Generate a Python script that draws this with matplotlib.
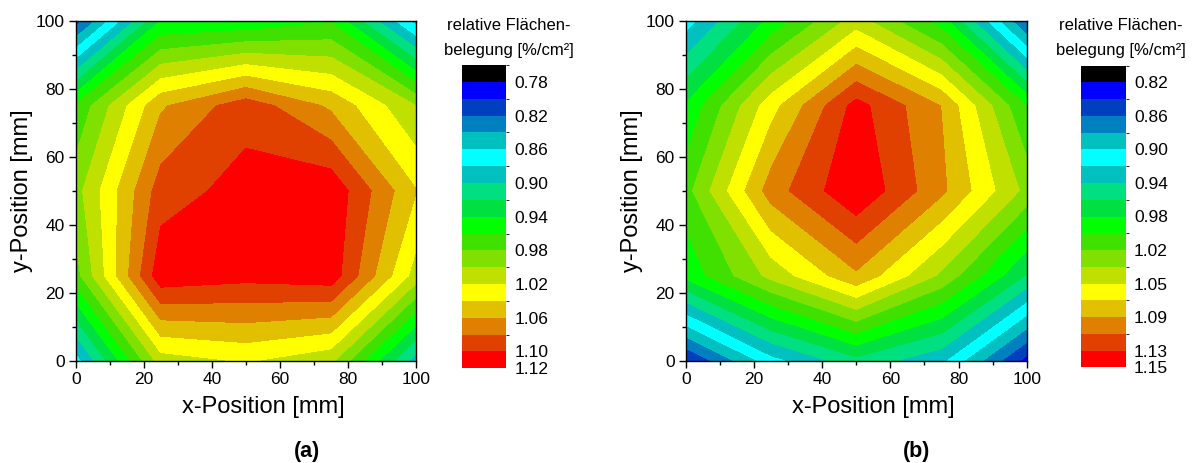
import numpy as np
import matplotlib
matplotlib.use("Agg")
import matplotlib.pyplot as plt
from matplotlib.colors import ListedColormap, BoundaryNorm
from matplotlib.ticker import MultipleLocator

plt.rcParams['font.family'] = ['Liberation Sans', 'DejaVu Sans']

# measuring grid [mm]
pos_mm = [0, 25, 50, 75, 100]

# relative area coverage, rows = y (0 -> 100 mm), columns = x (0 -> 100 mm)
belegung_a = [
    [0.870, 1.010, 1.022, 1.005, 0.890],
    [0.972, 1.114, 1.107, 1.112, 1.011],
    [0.992, 1.090, 1.108, 1.115, 1.041],
    [0.963, 1.057, 1.092, 1.056, 1.000],
    [0.810, 0.940, 0.943, 0.958, 0.852],
]
belegung_b = [
    [0.838, 0.910, 0.951, 0.922, 0.833],
    [0.982, 1.041, 1.090, 1.031, 0.955],
    [1.008, 1.103, 1.150, 1.098, 1.029],
    [0.979, 1.066, 1.140, 1.093, 0.995],
    [0.908, 0.982, 1.044, 0.986, 0.856],
]

# colour scale boundaries and colourbar labels
levels_a = np.linspace(0.76, 1.12, 19)
levels_b = np.linspace(0.801, 1.152, 19)
cbar_idx = [1, 3, 5, 7, 9, 11, 13, 15, 17, 18]
cbar_labels_a = ["0.78", "0.82", "0.86", "0.90", "0.94", "0.98",
                 "1.02", "1.06", "1.10", "1.12"]
cbar_labels_b = ["0.82", "0.86", "0.90", "0.94", "0.98", "1.02",
                 "1.05", "1.09", "1.13", "1.15"]

origin_colors = [
    "#000000", "#0000ff", "#0040c0", "#0080c0", "#00c0c0", "#00ffff",
    "#00c0c0", "#00e080", "#00e040", "#00ff00", "#40e000", "#80e000",
    "#c0e000", "#ffff00", "#e0c000", "#e08000", "#e04000", "#ff0000",
]
cmap = ListedColormap(origin_colors)

W, H = 1194, 463
fig = plt.figure(figsize=(W / 100, H / 100), dpi=100)


def px_axes(left, top, right, bottom):
    return fig.add_axes([left / W, 1 - bottom / H, (right - left) / W, (bottom - top) / H])


panels = [
    (belegung_a, levels_a, cbar_labels_a, (75.7, 20.7, 416.0, 360.7),
     (462, 65, 506, 368.3), 509, "(a)", 307),
    (belegung_b, levels_b, cbar_labels_b, (685.7, 20.7, 1026.7, 360.7),
     (1081, 65.7, 1125.7, 367.3), 1121, "(b)", 917),
]

for data, levels, labels, ax_box, cb_box, title_x, tag, tag_x in panels:
    ax = px_axes(*ax_box)
    norm = BoundaryNorm(levels, cmap.N)
    cs = ax.contourf(pos_mm, pos_mm, np.array(data), levels=levels,
                     cmap=cmap, norm=norm, antialiased=False)
    ax.set_xlim(0, 100)
    ax.set_ylim(0, 100)
    ax.xaxis.set_major_locator(MultipleLocator(20))
    ax.yaxis.set_major_locator(MultipleLocator(20))
    ax.xaxis.set_minor_locator(MultipleLocator(10))
    ax.yaxis.set_minor_locator(MultipleLocator(10))
    ax.tick_params(which='major', direction='out', length=5, width=1,
                   labelsize=12.5, pad=3)
    ax.tick_params(which='minor', direction='out', length=3, width=1)
    for spine in ax.spines.values():
        spine.set_linewidth(1.0)
    ax.set_xlabel("x-Position [mm]", fontsize=17, labelpad=7)
    ax.xaxis.set_label_coords(0.55, -0.105)
    ax.set_ylabel("y-Position [mm]", fontsize=17, labelpad=2)

    cax = px_axes(*cb_box)
    cb = fig.colorbar(cs, cax=cax, ticks=[levels[i] for i in cbar_idx])
    cb.ax.set_yticklabels(labels)
    cb.outline.set_visible(False)
    cax.invert_yaxis()
    cax.tick_params(length=0, labelsize=12.5, pad=6)

    fig.text(title_x / W, 1 - 25 / H, "relative Flächen-", fontsize=12,
             ha='center', va='center')
    fig.text(title_x / W, 1 - 51 / H, "belegung [%/cm²]", fontsize=12,
             ha='center', va='center')
    fig.text(tag_x / W, 1 - 452 / H, tag, fontsize=15.5, fontweight='bold',
             ha='center', va='center')

fig.savefig("out.png", dpi=100)
